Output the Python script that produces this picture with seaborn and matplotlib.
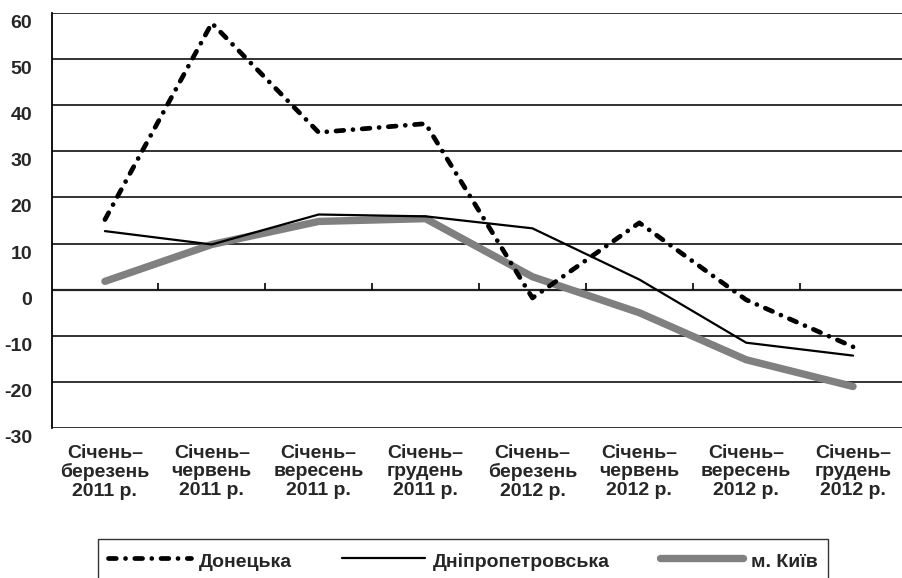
import numpy as np
import matplotlib
matplotlib.use('Agg')
import matplotlib.pyplot as plt
import matplotlib.transforms as mtransforms
import seaborn as sns

# data
periods = [
    "Січень–\nберезень\n2011 р.", "Січень–\nчервень\n2011 р.",
    "Січень–\nвересень\n2011 р.", "Січень–\nгрудень\n2011 р.",
    "Січень–\nберезень\n2012 р.", "Січень–\nчервень\n2012 р.",
    "Січень–\nвересень\n2012 р.", "Січень–\nгрудень\n2012 р.",
]
donetsk = [15.2, 57.8, 34.1, 36.0, -1.8, 14.5, -2.2, -12.4]
dnipro = [12.7, 9.8, 16.3, 15.9, 13.3, 2.2, -11.5, -14.3]
kyiv = [1.8, 9.8, 14.8, 15.4, 2.8, -5.0, -15.2, -21.0]
y_ticks = [60, 50, 40, 30, 20, 10, 0, -10, -20, -30]

sns.set_style("white")
plt.rcParams['font.family'] = ['Liberation Sans', 'DejaVu Sans']
plt.rcParams['font.weight'] = 'bold'

fig = plt.figure(figsize=(9.02, 5.78), dpi=100)
ax = fig.add_axes([51.5 / 902, 150 / 578, 855 / 902, 415 / 578])

x = np.arange(len(periods))

# gridlines
for t in y_ticks:
    ax.axhline(t, color='#222222', lw=1.3 if t != 0 else 1.6, zorder=1)
# category boundary ticks on the zero line
ax.vlines(x[:-1] + 0.5, 0, 1.5, color='black', lw=1.2, zorder=1)

sns.lineplot(x=x, y=kyiv, ax=ax, color='#808080', lw=5.3,
             solid_capstyle='round', label='м. Київ', zorder=3)
sns.lineplot(x=x, y=dnipro, ax=ax, color='black', lw=1.6,
             label='Дніпропетровська', zorder=4)
sns.lineplot(x=x, y=donetsk, ax=ax, color='black', lw=3.4,
             linestyle=(0, (1.65, 1.95, 0.01, 1.95)),
             dash_capstyle='round', label='Донецька', zorder=5)
ax.get_legend().remove()

ax.set_xlim(-0.5, len(periods) - 0.5)
ax.set_ylim(-30, 60)
ax.set_yticks(y_ticks)
ax.set_yticklabels([str(t) for t in y_ticks], fontsize=14, fontweight='bold')
ax.set_xticks(x)
ax.set_xticklabels(periods, fontsize=14, fontweight='bold', linespacing=1.12)
ax.tick_params(axis='both', length=0)
ax.tick_params(axis='y', pad=14)
ax.tick_params(axis='x', pad=12)
ax.set_xlabel('')
ax.set_ylabel('')

offset = mtransforms.ScaledTranslation(0, -0.085, fig.dpi_scale_trans)
for lab in ax.get_yticklabels():
    lab.set_transform(lab.get_transform() + offset)

for side in ['top', 'right', 'bottom']:
    ax.spines[side].set_visible(False)
ax.spines['left'].set_color('black')
ax.spines['left'].set_linewidth(1.3)

handles, labels = ax.get_legend_handles_labels()
order = ['Донецька', 'Дніпропетровська', 'м. Київ']
hmap = dict(zip(labels, handles))
leg = fig.legend([hmap[k] for k in order], order, ncol=3,
                 loc='upper left', bbox_to_anchor=(98 / 902, 1 - 539 / 578),
                 borderaxespad=0, frameon=True, fancybox=False,
                 handlelength=4.3, handletextpad=0.4, columnspacing=2.55,
                 handleheight=1.5, borderpad=0.5,
                 prop={'weight': 'bold', 'size': 14})
leg.get_frame().set_edgecolor('black')
leg.get_frame().set_linewidth(1.0)

fig.savefig('out.png', dpi=100)
